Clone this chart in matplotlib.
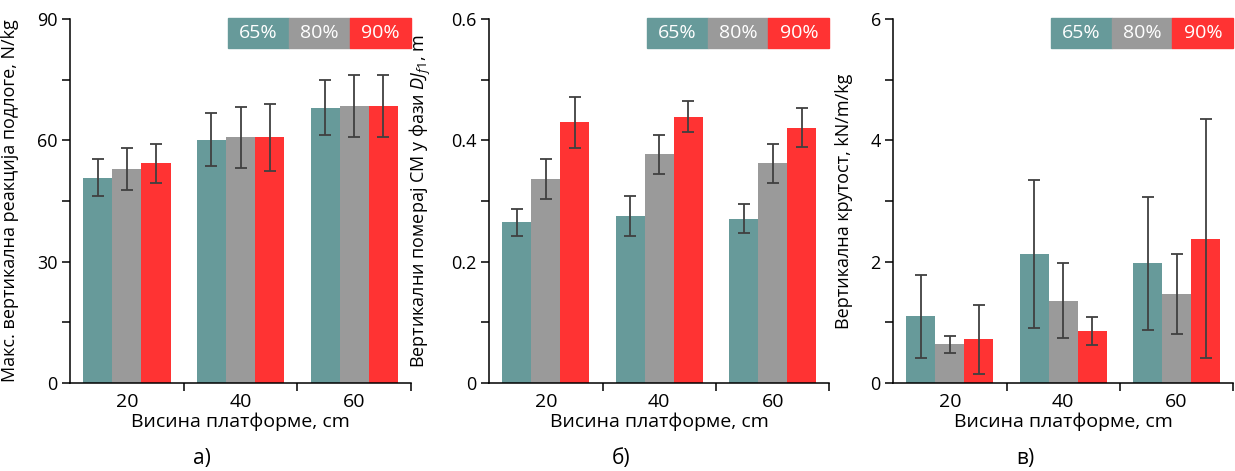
import numpy as np
import matplotlib
matplotlib.use("Agg")
import matplotlib.pyplot as plt
from matplotlib.patches import Rectangle

plt.rcParams["font.family"] = ["Open Sans", "DejaVu Sans"]
plt.rcParams["mathtext.fontset"] = "custom"
plt.rcParams["mathtext.rm"] = "Open Sans"
plt.rcParams["mathtext.it"] = "Open Sans:italic"

# ── data ─────────────────────────────────────────────────────────────────────

heights = ["20", "40", "60"]
groups = ["65%", "80%", "90%"]
colors = ["#679a9a", "#9a9a9a", "#ff3333"]

# а) peak vertical ground reaction force, N/kg
force_mean = [[50.8, 60.2, 68.1],
              [52.9, 60.7, 68.5],
              [54.3, 60.7, 68.5]]
force_sd = [[4.6, 6.6, 6.7],
            [5.1, 7.6, 7.6],
            [4.9, 8.4, 7.6]]

# б) vertical CM displacement, m
disp_mean = [[0.265, 0.275, 0.271],
             [0.336, 0.377, 0.362],
             [0.430, 0.439, 0.421]]
disp_sd = [[0.022, 0.033, 0.024],
           [0.033, 0.032, 0.032],
           [0.042, 0.025, 0.032]]

# в) vertical stiffness, kN/m/kg
stiff_mean = [[1.10, 2.12, 1.97],
              [0.64, 1.36, 1.47],
              [0.72, 0.86, 2.38]]
stiff_sd = [[0.68, 1.22, 1.10],
            [0.14, 0.61, 0.66],
            [0.57, 0.23, 1.97]]

panels = [
    dict(mean=force_mean, sd=force_sd, ylim=90, major=30, minor=15,
         ylabel="Макс. вертикална реакција подлоге, N/kg", tag="а)",
         fmt="{:.0f}", rect=[0.0567, 0.1868, 0.2761, 0.7729], ylab_x=-0.150),
    dict(mean=disp_mean, sd=disp_sd, ylim=0.6, major=0.2, minor=0.1,
         ylabel="Вертикални померај CM у фази $DJ_{f1}$, m", tag="б)",
         fmt="{:g}", rect=[0.3962, 0.1868, 0.2753, 0.7729], ylab_x=-0.165),
    dict(mean=stiff_mean, sd=stiff_sd, ylim=6, major=2, minor=1,
         ylabel="Вертикална крутост, kN/m/kg", tag="в)",
         fmt="{:.0f}", rect=[0.7233, 0.1868, 0.2753, 0.7729], ylab_x=-0.118),
]

BAR_W = 0.256
FS = 13
FS_X = 14

fig = plt.figure(figsize=(12.35, 4.71), dpi=100)

for p in panels:
    ax = fig.add_axes(p["rect"])
    x = np.arange(len(heights))
    for k, g in enumerate(groups):
        ax.bar(x + (k - 1) * BAR_W, p["mean"][k], BAR_W, color=colors[k],
               yerr=p["sd"][k], ecolor="#404040",
               error_kw=dict(elinewidth=1.3, capsize=4, capthick=1.3),
               zorder=2)

    ax.set_xlim(-0.5, 2.5)
    ax.set_ylim(0, p["ylim"])
    ax.spines["top"].set_visible(False)
    ax.spines["right"].set_visible(False)
    for s in ("left", "bottom"):
        ax.spines[s].set_linewidth(1.1)

    # category labels at group centres, ticks between groups
    ax.set_xticks(x)
    ax.set_xticklabels(heights, fontsize=FS_X)
    ax.set_xticks([0.5, 1.5, 2.5], minor=True)
    ax.tick_params(axis="x", which="major", length=0, pad=7)
    ax.tick_params(axis="x", which="minor", length=6, width=1.1)

    yt = np.arange(0, p["ylim"] + 1e-9, p["major"])
    ax.set_yticks(yt)
    ax.set_yticklabels([p["fmt"].format(v) for v in yt], fontsize=FS)
    ax.set_yticks(np.arange(0, p["ylim"] + 1e-9, p["minor"]), minor=True)
    ax.tick_params(axis="y", which="both", length=6, width=1.1, pad=3)

    ax.set_xlabel("Висина платформе, cm", fontsize=FS_X, labelpad=1)
    ax.set_ylabel(p["ylabel"], fontsize=FS)
    ax.yaxis.set_label_coords(p["ylab_x"], 0.5)

    # legend drawn as coloured tiles in the top-right corner
    tw, th = 0.179, 0.083
    for k, g in enumerate(groups):
        x0 = 1.0 - (3 - k) * tw
        ax.add_patch(Rectangle((x0, 1.0 - th + 0.003), tw, th,
                               transform=ax.transAxes, color=colors[k],
                               clip_on=False, zorder=5))
        ax.text(x0 + tw / 2, 1.0 - th / 2 + 0.003, g, transform=ax.transAxes,
                ha="center", va="center", color="white", fontsize=14,
                zorder=6)

    l, b, w, h = p["rect"]
    fig.text(l + w / 2 - 0.031, 0.026, p["tag"], ha="center", va="center",
             fontsize=15)

fig.savefig("out.png", dpi=100)
